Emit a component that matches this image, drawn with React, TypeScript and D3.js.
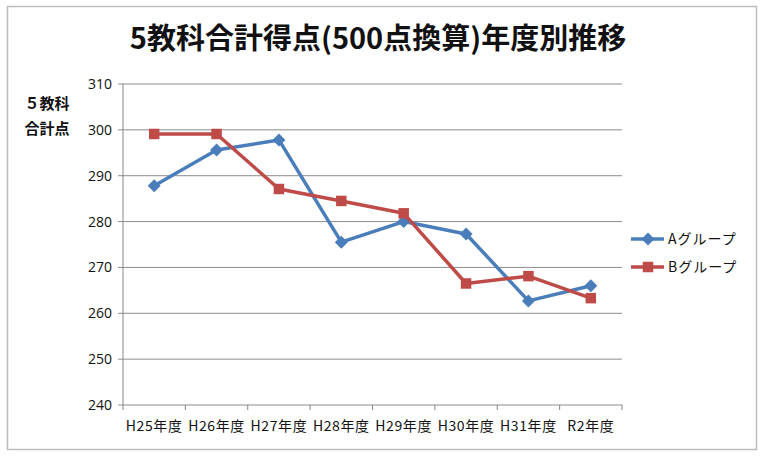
import { useEffect } from "react";
import * as d3 from "d3";

const years = ["H25年度", "H26年度", "H27年度", "H28年度", "H29年度", "H30年度", "H31年度", "R2年度"];
const groupA = [287.8, 295.6, 297.8, 275.5, 280.0, 277.3, 262.7, 266.0];
const groupB = [299.1, 299.1, 287.1, 284.5, 281.8, 266.5, 268.1, 263.3];
const yTicks = [240, 250, 260, 270, 280, 290, 300, 310];

const series = [
  { name: "Aグループ", values: groupA, color: "#4a7ebb", marker: "diamond" },
  { name: "Bグループ", values: groupB, color: "#be4b48", marker: "square" },
];

const W = 768;
const H = 459;
const plot = { left: 123, right: 622, top: 84, bottom: 405 };
const jp = "'Noto Sans CJK JP', 'Noto Sans', sans-serif";

export default function App() {
  useEffect(() => {
    document.body.style.margin = "0";
  }, []);

  const x = d3.scaleBand<string>().domain(years).range([plot.left, plot.right]);
  const y = d3.scaleLinear().domain([240, 310]).range([plot.bottom, plot.top]);
  const cx = (d: string) => (x(d) ?? 0) + x.bandwidth() / 2;

  const line = d3
    .line<number>()
    .x((_, i) => cx(years[i]))
    .y((v) => y(v));

  // diamond = square turned 45°, as in the spreadsheet marker
  const diamond = "M0,-6.5L6.5,0L0,6.5L-6.5,0Z";
  const square = d3.symbol(d3.symbolSquare, 110)() || "";
  const markerPath = (m: string) => (m === "diamond" ? diamond : square);

  const boundaries = [...years.map((d) => x(d) ?? 0), plot.right];

  return (
    <svg width={W} height={H} style={{ display: "block", background: "#fff" }}>
      <rect x={7.5} y={6.5} width={749} height={443} fill="#fff" stroke="#bdbdbd" strokeWidth={1.5} />

      <text
        x={378}
        y={49}
        textAnchor="middle"
        fontFamily={jp}
        fontWeight="bold"
        fontSize={29}
        fill="#111"
      >
        5教科合計得点(500点換算)年度別推移
      </text>

      {/* grid + y labels */}
      {yTicks.map((t) => (
        <g key={t}>
          <line
            x1={plot.left - 5}
            x2={plot.right}
            y1={y(t)}
            y2={y(t)}
            stroke="#8c8c8c"
            strokeWidth={1}
          />
          <text
            x={plot.left - 11}
            y={y(t) + 5}
            textAnchor="end"
            fontFamily="'Open Sans', sans-serif"
            fontSize={14}
            fill="#111"
          >
            {t}
          </text>
        </g>
      ))}
      <line x1={plot.left} x2={plot.left} y1={plot.top} y2={plot.bottom} stroke="#868686" />
      {boundaries.map((b, i) => (
        <line key={i} x1={b} x2={b} y1={plot.bottom} y2={plot.bottom + 5} stroke="#868686" />
      ))}
      {years.map((d) => (
        <text
          key={d}
          x={cx(d)}
          y={plot.bottom + 26}
          textAnchor="middle"
          fontFamily={jp}
          fontSize={14}
          letterSpacing={0.6}
          fill="#111"
        >
          {d}
        </text>
      ))}

      <text fontFamily={jp} fontWeight="bold" fontSize={15} fill="#111" textAnchor="middle">
        <tspan x={47} y={109}>５教科</tspan>
        <tspan x={47} y={134}>合計点</tspan>
      </text>

      {series.map((s) => (
        <g key={s.name}>
          <path
            d={line(s.values) || ""}
            fill="none"
            stroke={s.color}
            strokeWidth={3.5}
            strokeLinejoin="round"
          />
          {s.values.map((v, i) => (
            <path
              key={i}
              d={markerPath(s.marker)}
              transform={`translate(${cx(years[i])},${y(v)})`}
              fill={s.color}
            />
          ))}
        </g>
      ))}

      {/* legend */}
      {series.map((s, i) => {
        const ly = 239 + i * 28;
        return (
          <g key={s.name}>
            <line x1={631} x2={664} y1={ly} y2={ly} stroke={s.color} strokeWidth={3.5} />
            <path d={markerPath(s.marker)} transform={`translate(648,${ly})`} fill={s.color} />
            <text x={668} y={ly + 5} fontFamily={jp} fontSize={14} letterSpacing={1} fill="#111">
              {s.name}
            </text>
          </g>
        );
      })}
    </svg>
  );
}
